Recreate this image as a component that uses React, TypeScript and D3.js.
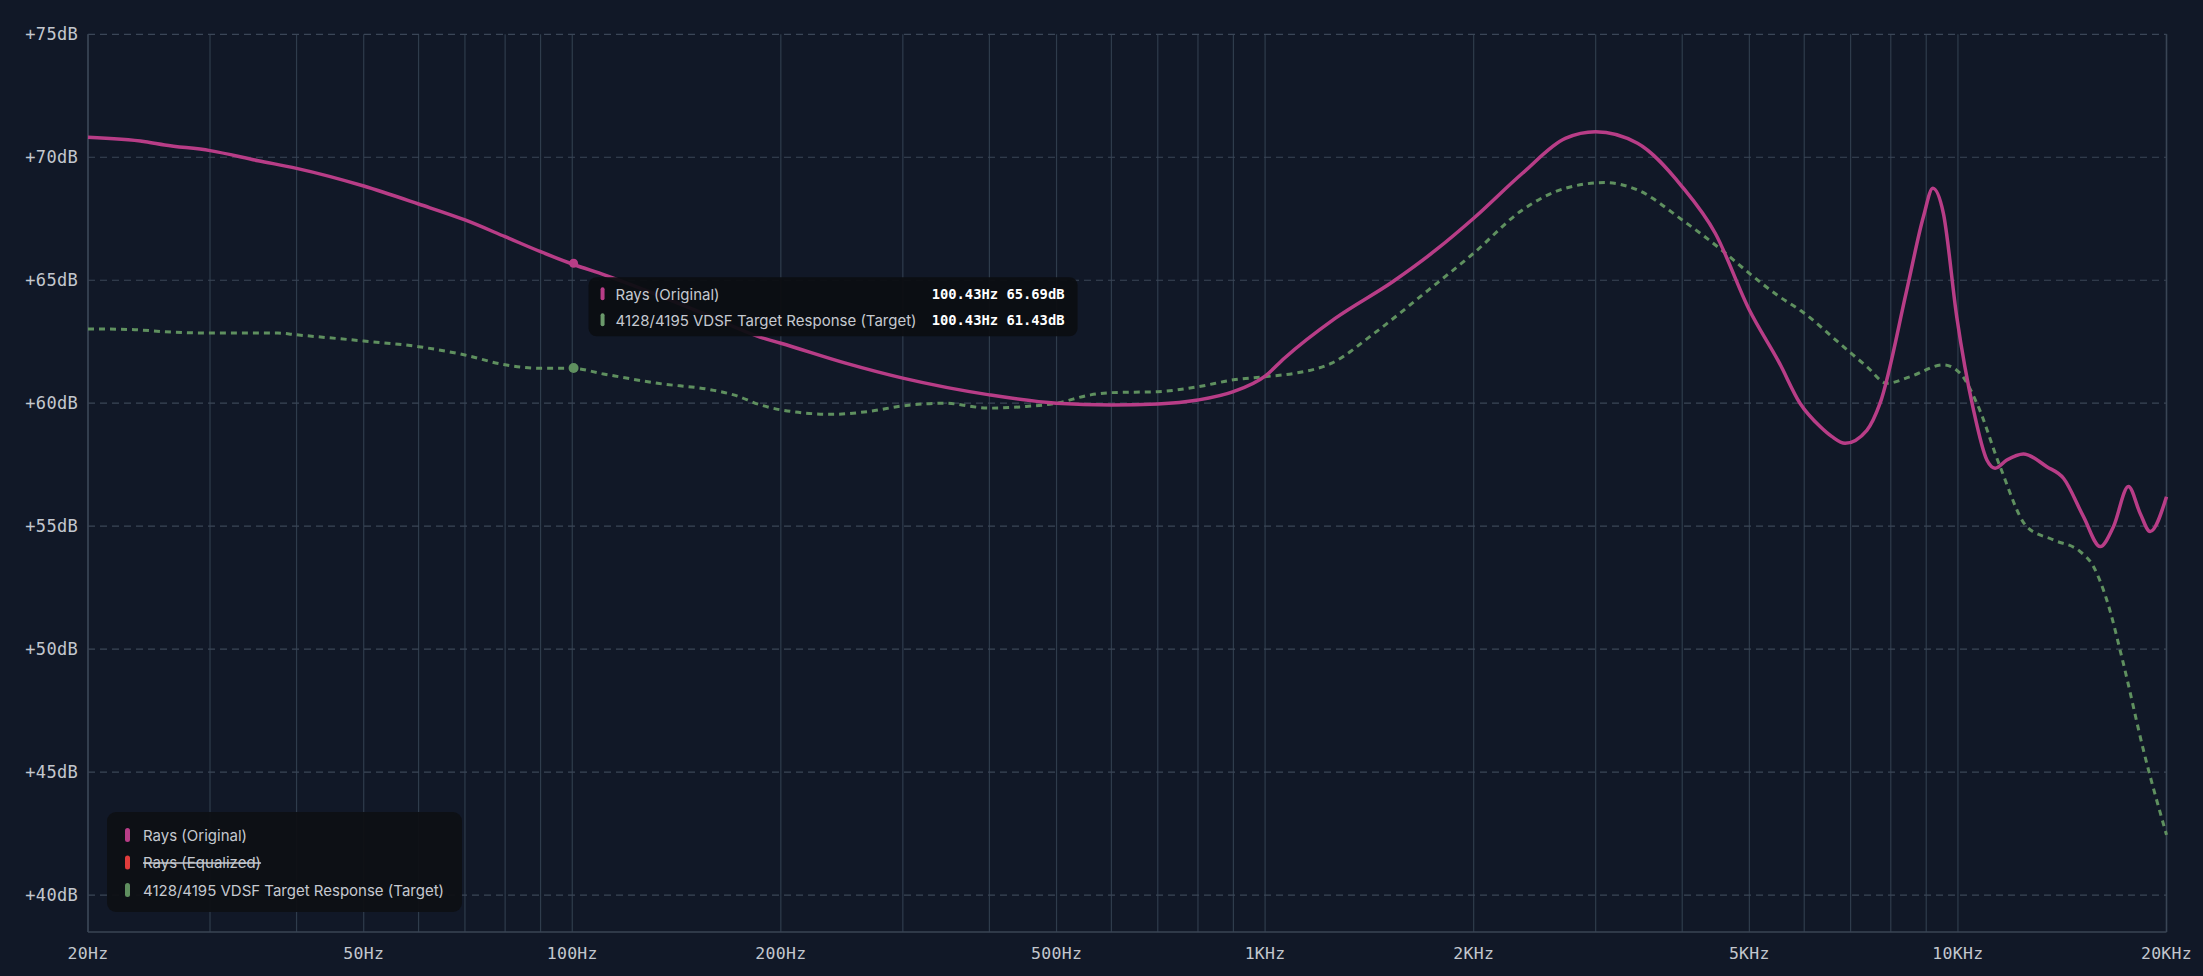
import React, { useEffect } from "react";
import * as d3 from "d3";

const W = 2203;
const H = 976;
const M = { left: 88, right: 2166.5, top: 34.3, bottom: 932 };

const yTicks = [75, 70, 65, 60, 55, 50, 45, 40];
const xTickVals = [20, 50, 100, 200, 500, 1000, 2000, 5000, 10000, 20000];
const xTickLabels = ["20Hz", "50Hz", "100Hz", "200Hz", "500Hz", "1KHz", "2KHz", "5KHz", "10KHz", "20KHz"];
const gridFreqs = [
  20, 30, 40, 50, 60, 70, 80, 90, 100, 200, 300, 400, 500, 600, 700, 800, 900,
  1000, 2000, 3000, 4000, 5000, 6000, 7000, 8000, 9000, 10000, 20000,
];

const rawFreq = [
  20, 24.2, 25.8, 30, 35.2, 40, 50, 60, 70, 80, 90, 100, 111.5, 154.6, 187, 200, 248, 300, 400, 500,
  600, 700, 800, 900, 1000, 1066, 1262, 1528, 1764, 2000, 2352, 2712, 3000, 3448, 4000, 4464, 5000,
  5526, 5916, 6325, 6580, 6872, 7388, 7720, 8436, 8918, 9199, 9528, 9960, 10530, 11010, 11316, 11764,
  12432, 13436, 14202, 15178, 16044, 16768, 17622, 18320, 18938, 20000,
];
const rawDb = [
  70.81, 70.63, 70.5, 70.27, 69.86, 69.55, 68.83, 68.1, 67.45, 66.77, 66.16, 65.66, 65.21, 63.65, 62.68,
  62.44, 61.63, 61.02, 60.34, 60.0, 59.93, 59.97, 60.13, 60.47, 61.1, 61.83, 63.45, 64.94, 66.23, 67.52,
  69.35, 70.77, 71.04, 70.57, 68.8, 66.91, 63.79, 61.63, 60.0, 59.05, 58.64, 58.37, 58.9, 60.0, 64.6,
  67.59, 68.74, 67.72, 63.52, 59.73, 57.69, 57.36, 57.69, 57.94, 57.42, 56.95, 55.39, 54.17, 54.98,
  56.61, 55.53, 54.78, 56.2,
];

const targetFreq = [
  20, 22.9, 25.8, 30, 37.6, 40, 50, 60, 70, 80, 90, 100, 110.9, 132.8, 158.9, 171, 187, 200, 237, 267,
  300, 344, 400, 448, 500, 560, 600, 700, 800, 900, 1000, 1106, 1248, 1438, 1722, 2000, 2352, 2712,
  3090, 3448, 4000, 4560, 5000, 5526, 5916, 6834, 7388, 7896, 8532, 9528, 10072, 10648, 11504, 12572,
  13738, 15010, 15688, 16400, 17300, 18560, 20000,
];
const targetDb = [
  63.02, 63.0, 62.91, 62.85, 62.85, 62.78, 62.53, 62.3, 61.96, 61.56, 61.42, 61.42, 61.19, 60.81, 60.54,
  60.34, 59.93, 59.73, 59.55, 59.66, 59.89, 60.0, 59.8, 59.86, 60.0, 60.34, 60.43, 60.47, 60.67, 60.95,
  61.08, 61.22, 61.63, 62.85, 64.61, 66.1, 67.86, 68.74, 68.97, 68.67, 67.45, 66.23, 65.28, 64.33, 63.79,
  62.3, 61.49, 60.81, 61.08, 61.56, 61.22, 60.0, 57.42, 54.98, 54.44, 53.97, 53.36, 52.0, 49.5, 45.8, 42.45,
];

const hoverFreq = 100.43;
const hoverRawDb = 65.69;
const hoverTargetDb = 61.43;

const legendItems = ["Rays (Original)", "Rays (Equalized)", "4128/4195 VDSF Target Response (Target)"];
const legendColors = ["#b83d87", "#e03c3c", "#5f8f5f"];
const legendStruck = [false, true, false];

const PINK = "#b83d87";
const GREEN = "#5f905f";
const MONO = "'DejaVu Sans Mono', monospace";
const SANS = "Inter, 'Noto Sans', sans-serif";

export default function App() {
  useEffect(() => {
    document.body.style.margin = "0";
    document.body.style.background = "#111827";
  }, []);

  const x = d3.scaleLog().domain([20, 20000]).range([M.left, M.right]);
  const y = d3.scaleLinear().domain([38.5, 75]).range([M.bottom, M.top]);

  const line = d3
    .line<[number, number]>()
    .x((d) => x(d[0]))
    .y((d) => y(d[1]))
    .curve(d3.curveMonotoneX);

  const rawPath = line(rawFreq.map((f, i) => [f, rawDb[i]] as [number, number])) || "";
  const targetPath = line(targetFreq.map((f, i) => [f, targetDb[i]] as [number, number])) || "";

  const hx = x(hoverFreq);
  const hy1 = y(hoverRawDb);
  const hy2 = y(hoverTargetDb);
  const tipX = hx + 15;
  const tipY = hy1 + 14;

  return (
    <div style={{ position: "fixed", left: 0, top: 0, width: W, height: H }}>
      <svg width={W} height={H} style={{ display: "block" }}>
        <rect x={0} y={0} width={W} height={H} fill="#111827" />
        {gridFreqs.map((f) => (
          <line key={"vg" + f} x1={x(f)} x2={x(f)} y1={M.top} y2={M.bottom} stroke="#2f3c4c" strokeWidth={1.2} />
        ))}
        {yTicks.map((t) => (
          <line
            key={"hg" + t}
            x1={M.left}
            x2={M.right}
            y1={y(t)}
            y2={y(t)}
            stroke="#3b4657"
            strokeWidth={1.2}
            strokeDasharray="7,5"
          />
        ))}
        <line x1={M.left} x2={M.right} y1={M.bottom} y2={M.bottom} stroke="#3a4555" strokeWidth={1.5} />
        <line x1={M.left} x2={M.left} y1={M.top} y2={M.bottom} stroke="#3a4555" strokeWidth={1.5} />
        <line x1={M.right} x2={M.right} y1={M.top} y2={M.bottom} stroke="#3a4555" strokeWidth={1.5} />
        {yTicks.map((t) => (
          <text
            key={"yl" + t}
            x={78}
            y={y(t)}
            textAnchor="end"
            dominantBaseline="central"
            fill="#c3c7ce"
            fontFamily={MONO}
            fontSize={17}
            letterSpacing={0.3}
          >
            {`+${t}dB`}
          </text>
        ))}
        {xTickVals.map((f, i) => (
          <text
            key={"xl" + f}
            x={x(f)}
            y={953}
            textAnchor="middle"
            dominantBaseline="central"
            fill="#c3c7ce"
            fontFamily={MONO}
            fontSize={16.5}
            letterSpacing={0.3}
          >
            {xTickLabels[i]}
          </text>
        ))}
        <path d={targetPath} fill="none" stroke={GREEN} strokeWidth={3} strokeDasharray="6,5" />
        <path d={rawPath} fill="none" stroke={PINK} strokeWidth={3.5} strokeLinejoin="round" />
        <circle cx={hx} cy={hy1} r={4.5} fill={PINK} />
        <circle cx={hx} cy={hy2} r={5} fill={GREEN} />

        <g>
          <rect x={tipX} y={tipY} width={489} height={59} rx={8} fill="#0c0e12" opacity={0.95} />
          <rect x={tipX + 12} y={tipY + 10} width={4} height={13} rx={2} fill={PINK} />
          <rect x={tipX + 12} y={tipY + 36} width={4} height={13} rx={2} fill="#6b9a6b" />
          <text x={tipX + 27} y={tipY + 17} dominantBaseline="central" fill="#c5c9d0" fontFamily={SANS} fontSize={15}>
            Rays (Original)
          </text>
          <text x={tipX + 27} y={tipY + 43} dominantBaseline="central" fill="#c5c9d0" fontFamily={SANS} fontSize={15}>
            4128/4195 VDSF Target Response (Target)
          </text>
          <text
            x={tipX + 476}
            y={tipY + 17}
            textAnchor="end"
            dominantBaseline="central"
            fill="#ffffff"
            fontFamily={MONO}
            fontWeight="bold"
            fontSize={13.8}
          >
            {`${hoverFreq.toFixed(2)}Hz ${hoverRawDb.toFixed(2)}dB`}
          </text>
          <text
            x={tipX + 476}
            y={tipY + 43}
            textAnchor="end"
            dominantBaseline="central"
            fill="#ffffff"
            fontFamily={MONO}
            fontWeight="bold"
            fontSize={13.8}
          >
            {`${hoverFreq.toFixed(2)}Hz ${hoverTargetDb.toFixed(2)}dB`}
          </text>
        </g>

        <g>
          <rect x={107} y={812} width={355} height={100} rx={9} fill="#0e1014" opacity={0.95} />
          {legendItems.map((s, i) => (
            <g key={"lg" + i}>
              <rect x={125} y={835 + i * 27.5 - 7} width={5} height={14} rx={2.5} fill={legendColors[i]} />
              <text
                x={143}
                y={835 + i * 27.5}
                dominantBaseline="central"
                fill="#c5c9d0"
                fontFamily={SANS}
                fontSize={15}
                style={legendStruck[i] ? { textDecoration: "line-through" } : undefined}
              >
                {s}
              </text>
            </g>
          ))}
        </g>
      </svg>
    </div>
  );
}
